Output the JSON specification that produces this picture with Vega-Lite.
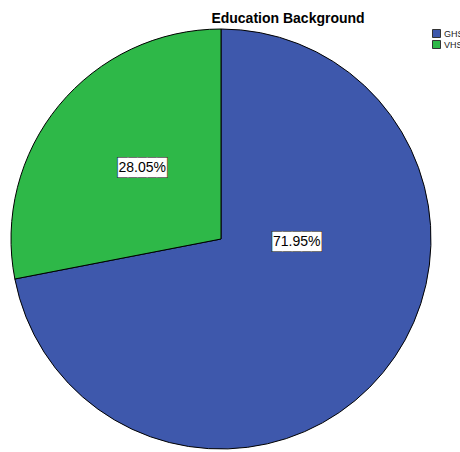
{
  "$schema": "https://vega.github.io/schema/vega-lite/v6.json",
  "autosize": {"type": "none"},
  "width": 442,
  "height": 420,
  "padding": {"left": 0, "top": 29, "right": 18, "bottom": 3},
  "background": "white",
  "title": {
    "text": "Education Background",
    "font": "Liberation Sans",
    "fontSize": 14,
    "fontWeight": "bold",
    "color": "#000000",
    "anchor": "middle",
    "baseline": "alphabetic",
    "offset": 8,
    "dx": 67,
    "dy": 18
  },
  "config": {"view": {"stroke": null}},
  "data": {
    "values": [
      {"group": "GHS", "percent": 71.95, "label": "71.95%"},
      {"group": "VHS", "percent": 28.05, "label": "28.05%"}
    ]
  },
  "layer": [
    {
      "mark": {"type": "arc", "outerRadius": 210, "stroke": "#000000", "strokeWidth": 1},
      "encoding": {
        "theta": {"field": "percent", "type": "quantitative", "stack": true},
        "order": {"field": "group"},
        "color": {
          "field": "group",
          "type": "nominal",
          "scale": {"domain": ["GHS", "VHS"], "range": ["#3E58AC", "#2EB848"]},
          "legend": {
            "orient": "none",
            "legendX": 432,
            "legendY": 0,
            "title": null,
            "symbolType": "square",
            "symbolSize": 64,
            "symbolStrokeColor": "#333333",
            "symbolStrokeWidth": 1,
            "labelFont": "Liberation Sans",
            "labelFontSize": 9,
            "labelColor": "#222222",
            "labelOffset": 3,
            "rowPadding": -2,
            "padding": 0
          }
        }
      }
    },
    {
      "mark": {
        "type": "text",
        "radius": 106,
        "font": "DejaVu Sans Mono",
        "fontSize": 16,
        "align": "center",
        "baseline": "middle",
        "fill": "#333333",
        "stroke": "#333333",
        "strokeWidth": 2,
        "dx": {"expr": "datum.group == 'GHS' ? -6 : 3"},
        "dy": {"expr": "datum.group == 'GHS' ? -64 : -4"}
      },
      "encoding": {
        "theta": {"field": "percent", "type": "quantitative", "stack": true},
        "order": {"field": "group"},
        "detail": {"field": "group"},
        "text": {"value": "█████"}
      }
    },
    {
      "mark": {
        "type": "text",
        "radius": 106,
        "font": "DejaVu Sans Mono",
        "fontSize": 16,
        "align": "center",
        "baseline": "middle",
        "fill": "#ffffff",
        "stroke": "#ffffff",
        "strokeWidth": 0.6,
        "dx": {"expr": "datum.group == 'GHS' ? -6 : 3"},
        "dy": {"expr": "datum.group == 'GHS' ? -64 : -4"}
      },
      "encoding": {
        "theta": {"field": "percent", "type": "quantitative", "stack": true},
        "order": {"field": "group"},
        "detail": {"field": "group"},
        "text": {"value": "█████"}
      }
    },
    {
      "mark": {
        "type": "text",
        "radius": 106,
        "font": "Liberation Sans",
        "fontSize": 14,
        "align": "center",
        "baseline": "middle",
        "fill": "#000000",
        "dx": {"expr": "datum.group == 'GHS' ? -6 : 3"},
        "dy": {"expr": "datum.group == 'GHS' ? -64 : -4"}
      },
      "encoding": {
        "theta": {"field": "percent", "type": "quantitative", "stack": true},
        "order": {"field": "group"},
        "detail": {"field": "group"},
        "text": {"field": "label"}
      }
    }
  ]
}
